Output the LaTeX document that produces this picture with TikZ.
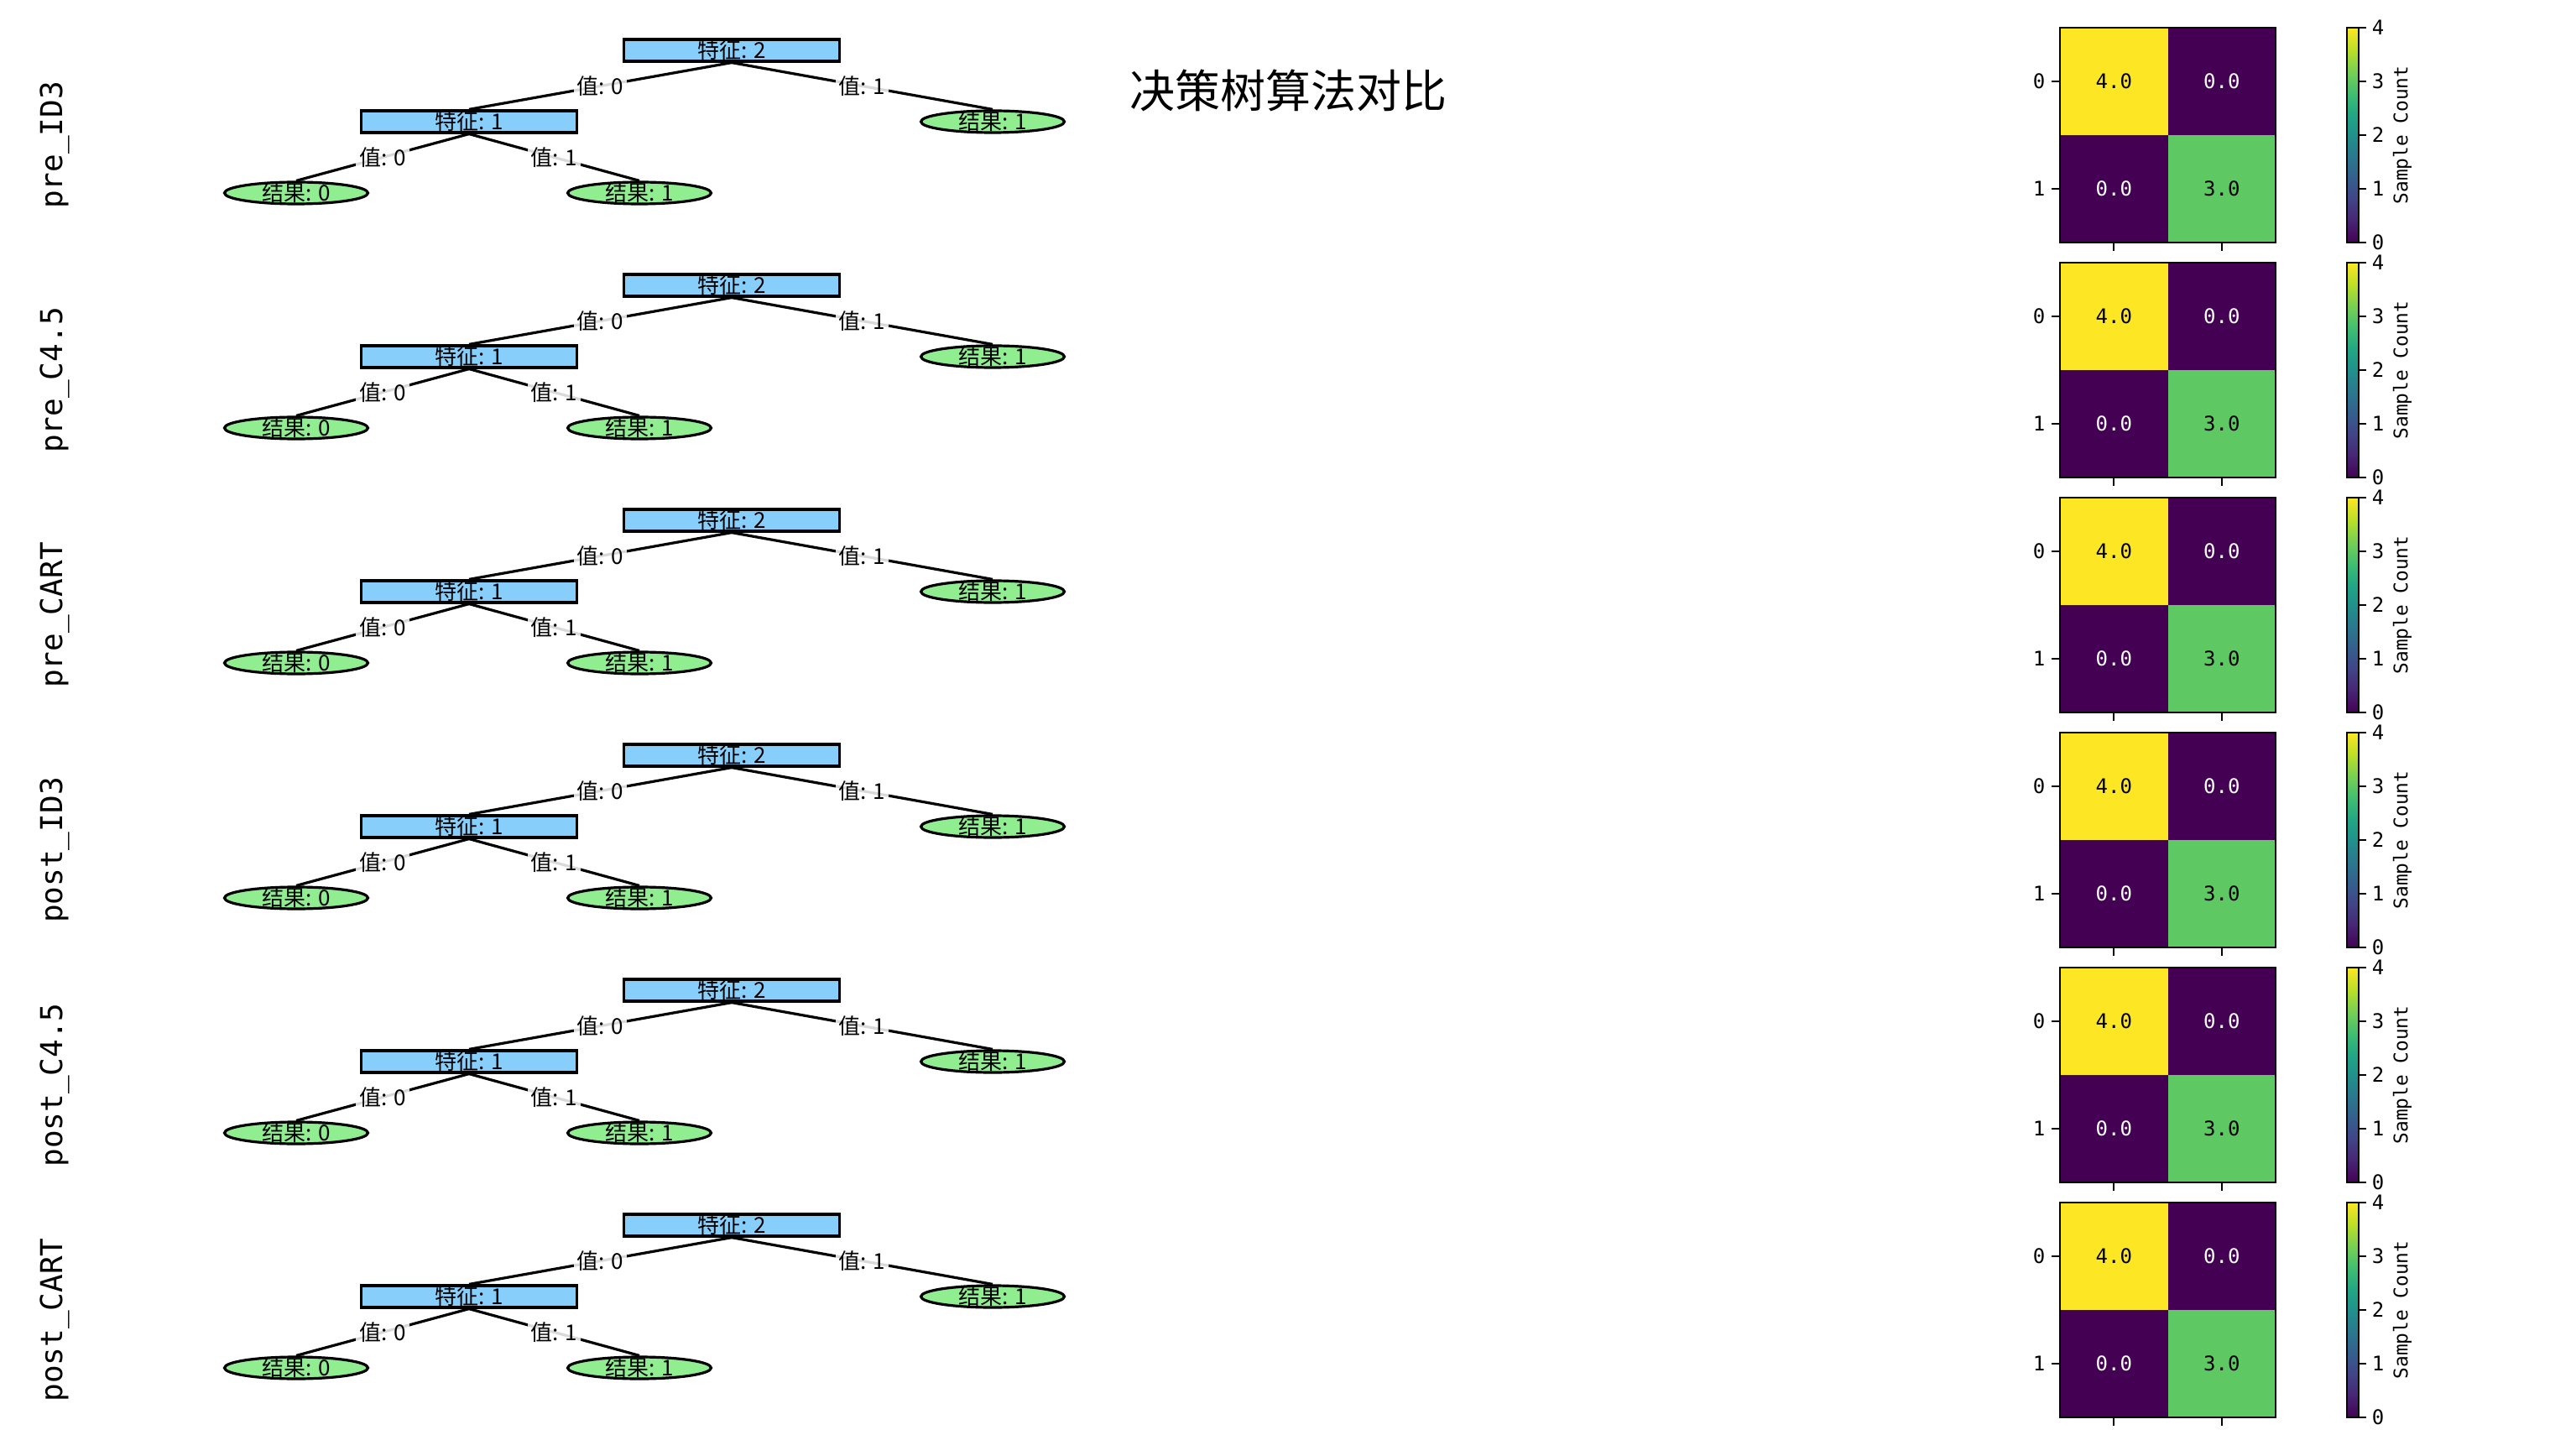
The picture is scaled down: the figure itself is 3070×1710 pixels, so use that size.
\documentclass[tikz,border=0pt]{standalone}
\usepackage{fontspec}
\setmainfont{Noto Sans CJK SC}
\newfontfamily\monof{DejaVu Sans Mono}
\usetikzlibrary{shapes.geometric}
\definecolor{boxblue}{HTML}{87CEFA}
\definecolor{leafgreen}{HTML}{90EE90}
\definecolor{v0}{HTML}{440154}
\definecolor{v1}{HTML}{482475}
\definecolor{v2}{HTML}{414487}
\definecolor{v3}{HTML}{355F8D}
\definecolor{v4}{HTML}{2A788E}
\definecolor{v5}{HTML}{21918C}
\definecolor{v6}{HTML}{22A884}
\definecolor{v7}{HTML}{44BF70}
\definecolor{v8}{HTML}{7AD151}
\definecolor{v9}{HTML}{BDDF26}
\definecolor{v10}{HTML}{FDE725}
\definecolor{vthree}{HTML}{5EC962}
\pgfdeclareverticalshading{viridis}{100bp}{color(0bp)=(v0); color(25bp)=(v0); color(30bp)=(v1); color(35bp)=(v2); color(40bp)=(v3); color(45bp)=(v4); color(50bp)=(v5); color(55bp)=(v6); color(60bp)=(v7); color(65bp)=(v8); color(70bp)=(v9); color(75bp)=(v10); color(100bp)=(v10)}
\begin{document}
\begin{tikzpicture}[x=0.25pt,y=-0.25pt,
  treefont/.style={font=\fontsize{6.5}{6.5}\selectfont},
  featbox/.style={rectangle, draw=black, line width=0.8pt, fill=boxblue, minimum width=64.25pt, minimum height=6.5pt, inner sep=0pt},
  leafshape/.style={ellipse, draw=black, line width=0.8pt, fill=leafgreen, minimum width=42.75pt, minimum height=6.5pt, inner sep=0pt},
  nodetext/.style={treefont, inner sep=0pt},
  edge/.style={draw=black, line width=0.8pt},
  edgelab/.style={treefont, fill=white, fill opacity=0.85, text opacity=1, inner sep=1pt},
  rowlab/.style={rotate=90, font=\monof\fontsize{9}{9}\selectfont},
  smallmono/.style={font=\monof\fontsize{6}{6}\selectfont, inner sep=0pt},
  axisline/.style={line width=0.5pt, draw=black}
]
\useasboundingbox (0,0) rectangle (3070,1710);
\node[font=\fontsize{13.5}{13.5}\selectfont] (title) at (1535,108) {决策树算法对比};
\foreach \i/\nm in {0/pre\_ID3,1/pre\_C4.5,2/pre\_CART,3/post\_ID3,4/post\_C4.5,5/post\_CART}{
  \pgfmathsetmacro{\dy}{280*\i}
  % row label
  \node[rowlab] (lab\i) at (65,173+\dy) {\nm};
  % tree nodes
  \node[featbox] (r\i) at (872,60+\dy) {};
  \node[featbox] (f\i) at (559,145+\dy) {};
  \node[leafshape] (lr\i) at (1183,145+\dy) {};
  \node[leafshape] (la\i) at (353,230+\dy) {};
  \node[leafshape] (lb\i) at (762,230+\dy) {};
  \node[nodetext] (tr\i) at (r\i) {特征: 2};
  \node[nodetext] (tf\i) at (f\i) {特征: 1};
  \node[nodetext] (tlr\i) at (lr\i) {结果: 1};
  \node[nodetext] (tla\i) at (la\i) {结果: 0};
  \node[nodetext] (tlb\i) at (lb\i) {结果: 1};
  % edges
  \draw[edge] (r\i.south) -- node[edgelab] (e1\i) {值: 0} (f\i.north);
  \draw[edge] (r\i.south) -- node[edgelab] (e2\i) {值: 1} (lr\i.north);
  \draw[edge] (f\i.south) -- node[edgelab] (e3\i) {值: 0} (la\i.north);
  \draw[edge] (f\i.south) -- node[edgelab] (e4\i) {值: 1} (lb\i.north);
  % heatmap
  \fill[v10] (2455,33+\dy) rectangle (2583.5,161+\dy);
  \fill[v0] (2583.5,33+\dy) rectangle (2712,161+\dy);
  \fill[v0] (2455,161+\dy) rectangle (2583.5,289+\dy);
  \fill[vthree] (2583.5,161+\dy) rectangle (2712,289+\dy);
  \draw[axisline] (2455,33+\dy) rectangle (2712,289+\dy);
  \node[smallmono, text=black] (c00\i) at (2519.25,97+\dy) {4.0};
  \node[smallmono, text=white] (c01\i) at (2647.75,97+\dy) {0.0};
  \node[smallmono, text=white] (c10\i) at (2519.25,225+\dy) {0.0};
  \node[smallmono, text=black] (c11\i) at (2647.75,225+\dy) {3.0};
  \draw[axisline] (2445,97+\dy) -- (2455,97+\dy);
  \draw[axisline] (2445,225+\dy) -- (2455,225+\dy);
  \node[smallmono, anchor=east] (y0\i) at (2438,97+\dy) {0};
  \node[smallmono, anchor=east] (y1\i) at (2438,225+\dy) {1};
  \draw[axisline] (2519.25,289+\dy) -- (2519.25,299+\dy);
  \draw[axisline] (2647.75,289+\dy) -- (2647.75,299+\dy);
  % colorbar
  \shade[shading=viridis] (2797,33+\dy) rectangle (2811,289+\dy);
  \draw[axisline] (2797,33+\dy) rectangle (2811,289+\dy);
  \foreach \k in {0,1,2,3,4}{
    \draw[axisline] (2811,289-64*\k+\dy) -- (2820,289-64*\k+\dy);
    \node[smallmono, anchor=west] (cb\k\i) at (2826,289-64*\k+\dy) {\k};
  }
  \node[rotate=90, font=\monof\fontsize{5.7}{5.7}\selectfont, inner sep=0pt] (sc\i) at (2863,161+\dy) {Sample Count};
}
\end{tikzpicture}
\end{document}
